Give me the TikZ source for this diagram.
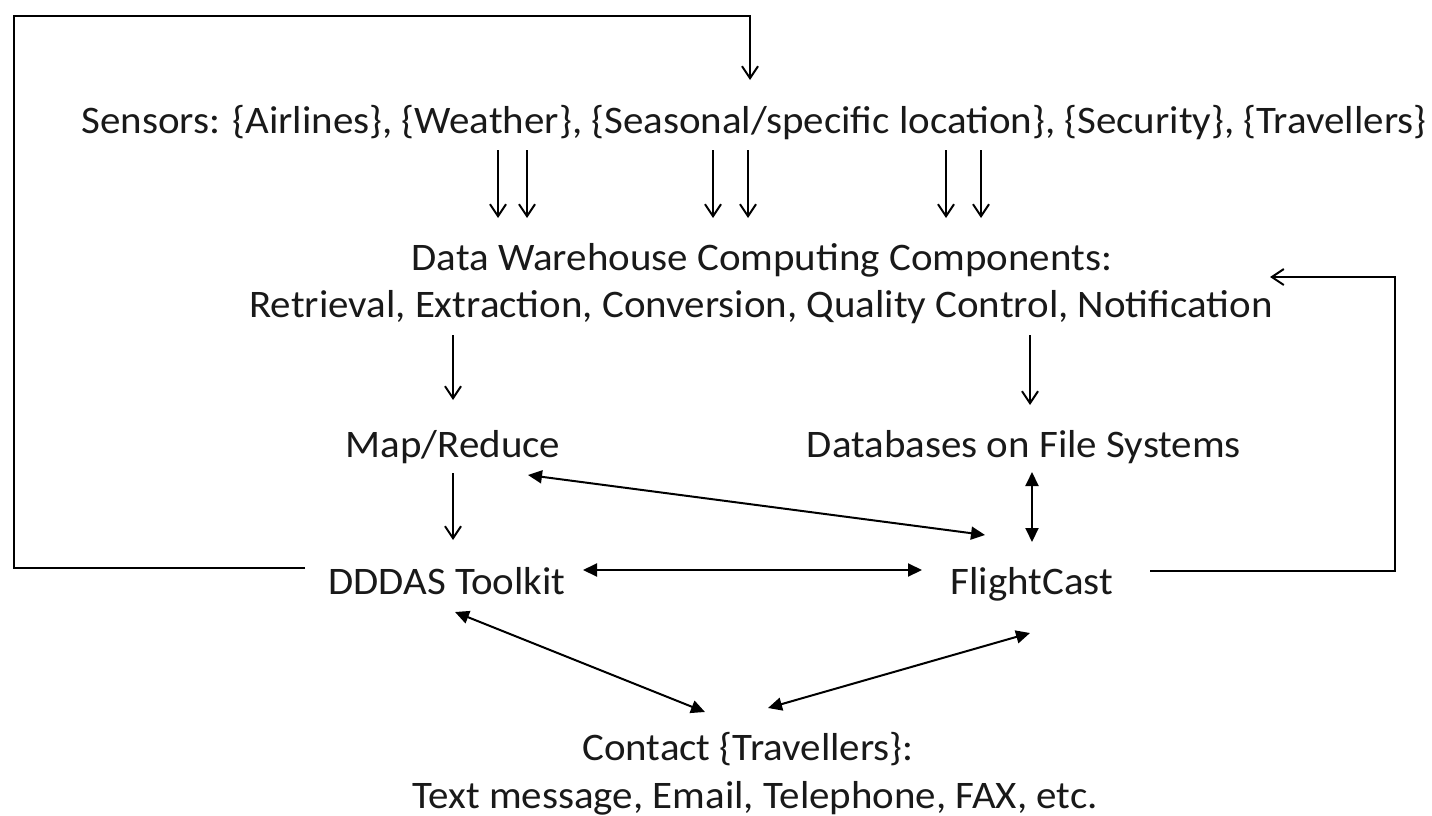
\documentclass[tikz,border=0pt]{standalone}
\usepackage{fontspec}
\setmainfont{Carlito}[FakeStretch=1.05]
\usetikzlibrary{arrows.meta,calc}
\begin{document}
\begin{tikzpicture}[x=1pt,y=-1pt,
  lbl/.style={font=\fontsize{39}{46}\selectfont, inner sep=0pt, anchor=base, text=black!90},
  arr/.style={line width=2pt, -{Straight Barb[length=12pt,width=16pt,line width=2pt]}},
  darr/.style={line width=2pt, {Triangle[length=14pt,width=13pt]}-{Triangle[length=14pt,width=13pt]}}]
\useasboundingbox (0,0) rectangle (1432,816);
\node[lbl] (sensors) at (754,133) {Sensors: \{Airlines\}, \{Weather\}, \{Seasonal/specific location\}, \{Security\}, \{Travellers\}};
\node[lbl] (dw1) at (762,270) {Data Warehouse Computing Components:};
\node[lbl] (dw2) at (761,317) {Retrieval, Extraction, Conversion, Quality Control, Notification};
\node[lbl] (mr) at (453,457) {Map/Reduce};
\node[lbl] (db) at (1024,457) {Databases on File Systems};
\node[lbl] (dddas) at (447,594) {DDDAS Toolkit};
\node[lbl] (fc) at (1032,594) {FlightCast};
\node[lbl] (ct1) at (748,760) {Contact \{Travellers\}:};
\node[lbl] (ct2) at (755,808) {Text message, Email, Telephone, FAX, etc.};
\coordinate (tl) at (14,16);
\coordinate (tr) at (750,16);
\coordinate (rc) at (1395,277);
% sensors to data warehouse
\foreach \x in {498,527,713,748,946,981}
  \draw[arr] ($(sensors.base)+(\x-754,17)$) -- ($(dw1.base)+(\x-762,-52)$);
\draw[arr] ($(dw2.base)+(-308,18)$) -- ($(mr.base)+(0,-57)$);
\draw[arr] ($(dw2.base)+(269,18)$) -- ($(db.base)+(6,-52)$);
\draw[arr] ($(mr.base)+(0,16)$) -- ($(dddas.base)+(6,-54)$);
\draw[darr] ($(dddas.base)+(136,-24)$) -- ($(fc.base)+(-110,-24)$);
\draw[darr] ($(mr.base)+(75,18)$) -- ($(fc.base)+(-47,-59)$);
\draw[darr] ($(db.base)+(8,15)$) -- ($(fc.base)+(0,-52)$);
\draw[arr] ($(fc.base)+(118,-23)$) -| (rc) -- ($(dw2.base)+(509,-40)$);
\draw[darr] ($(dddas.base)+(8,18)$) -- ($(ct1.base)+(-43,-48)$);
\draw[darr] ($(fc.base)+(-2,39)$) -- ($(ct1.base)+(20,-52)$);
\draw[arr] ($(dddas.base)+(-142,-26)$) -| (tl) -- (tr) -- ($(sensors.base)+(-4,-53)$);
\end{tikzpicture}
\end{document}
